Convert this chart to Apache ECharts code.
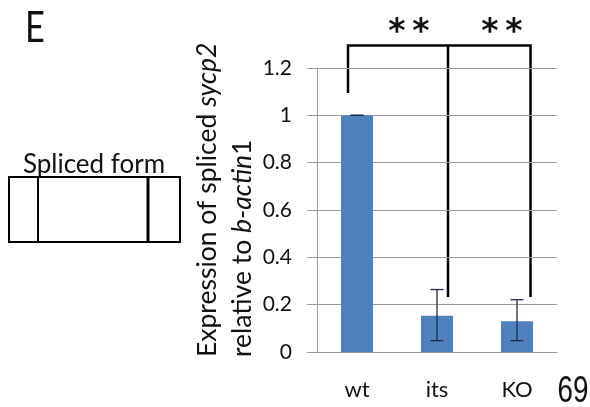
<!DOCTYPE html>
<html>
<head>
<meta charset="utf-8">
<script src="https://cdn.jsdelivr.net/npm/echarts@6/dist/echarts.min.js"></script>
<style>
  html, body { margin: 0; padding: 0; background: #fff; }
  #main { width: 590px; height: 407px; }
</style>
</head>
<body>
<div id="main"></div>
<script>
// data
var categories = ['wt', 'its', 'KO'];
var values = [1.0, 0.153, 0.13];
var errLow = [1.0, 0.048, 0.048];
var errHigh = [1.0, 0.264, 0.221];

var FONT = 'Lato';
var myChart = echarts.init(document.getElementById('main'));

var errData = [];
categories.forEach(function (c, i) {
    errData.push([i, errLow[i], errHigh[i]]);
});

function star(x) {
    return { type: 'text', x: x, y: 33, style: { text: '*', font: 'bold 33px "DejaVu Sans"', fill: '#111',
        align: 'center', verticalAlign: 'middle' } };
}

var option = {
    animation: false,
    backgroundColor: '#fff',
    grid: { left: 317, right: 33, top: 68, bottom: 55 },
    xAxis: {
        type: 'category',
        data: categories,
        axisLine: { lineStyle: { color: '#9a9a9a', width: 1 } },
        axisTick: { length: 8, lineStyle: { color: '#9a9a9a' } },
        axisLabel: { color: '#111', fontFamily: FONT, fontSize: 22, margin: 27 }
    },
    yAxis: {
        type: 'value',
        min: 0, max: 1.2, interval: 0.2,
        axisLine: { show: true, lineStyle: { color: '#9a9a9a', width: 1 } },
        axisTick: { show: true, length: 10, lineStyle: { color: '#9a9a9a' } },
        splitLine: { lineStyle: { color: '#9a9a9a', width: 1 } },
        axisLabel: { color: '#111', fontFamily: FONT, fontSize: 21, margin: 25 }
    },
    series: [{
        type: 'bar',
        data: values,
        barWidth: 32,
        itemStyle: { color: '#4f81bd' }
    }, {
        type: 'custom',
        data: errData,
        z: 5,
        renderItem: function (params, api) {
            var x = api.coord([api.value(0), 0])[0];
            var lo = api.coord([api.value(0), api.value(1)])[1];
            var hi = api.coord([api.value(0), api.value(2)])[1];
            var w = 6.5;
            var st = { stroke: '#1f2a4a', lineWidth: 1.3 };
            return {
                type: 'group',
                children: [
                    { type: 'line', shape: { x1: x, y1: lo, x2: x, y2: hi }, style: st },
                    { type: 'line', shape: { x1: x - w, y1: lo, x2: x + w, y2: lo }, style: st },
                    { type: 'line', shape: { x1: x - w, y1: hi, x2: x + w, y2: hi }, style: st }
                ]
            };
        }
    }],
    graphic: [
        // panel letter
        { type: 'text', x: 35, y: 28, scaleX: 0.8, style: { text: 'E', font: '43px ' + FONT, fill: '#111',
          align: 'center', verticalAlign: 'middle' } },
        // significance bracket
        { type: 'polyline', shape: { points: [[348, 93], [348, 45.5], [530.5, 45.5], [530.5, 297]] },
          style: { stroke: '#000', lineWidth: 2.5, fill: null } },
        { type: 'line', shape: { x1: 448, y1: 45.5, x2: 448, y2: 297 },
          style: { stroke: '#000', lineWidth: 2.5 } },
        star(397), star(421), star(490), star(514),
        // y axis title, two lines
        { type: 'text', x: 207.5, y: 357, rotation: Math.PI / 2,
          style: { text: 'Expression of spliced {i|sycp2}', font: '26.5px ' + FONT, fill: '#111',
            align: 'left', verticalAlign: 'middle',
            rich: { i: { fontStyle: 'italic', fontSize: 26.5, fontFamily: FONT, fill: '#111' } } } },
        { type: 'text', x: 242.5, y: 357, rotation: Math.PI / 2,
          style: { text: 'relative to {i|b-actin}1', font: '26.5px ' + FONT, fill: '#111',
            align: 'left', verticalAlign: 'middle',
            rich: { i: { fontStyle: 'italic', fontSize: 26.5, fontFamily: FONT, fill: '#111' } } } },
        // left diagram
        { type: 'text', x: 94, y: 165, style: { text: 'Spliced form', font: '26px ' + FONT, fill: '#111',
          align: 'center', verticalAlign: 'middle' } },
        { type: 'rect', shape: { x: 9, y: 177, width: 171, height: 65 },
          style: { stroke: '#000', lineWidth: 2, fill: '#fff' } },
        { type: 'line', shape: { x1: 38, y1: 177, x2: 38, y2: 242 }, style: { stroke: '#000', lineWidth: 2 } },
        { type: 'line', shape: { x1: 148, y1: 177, x2: 148, y2: 242 }, style: { stroke: '#000', lineWidth: 3 } },
        // page number
        { type: 'text', x: 573, y: 392, scaleX: 0.75, style: { text: '69', font: '37px "Liberation Sans"', fill: '#111',
          align: 'center', verticalAlign: 'middle' } }
    ]
};

myChart.setOption(option);
</script>
</body>
</html>
